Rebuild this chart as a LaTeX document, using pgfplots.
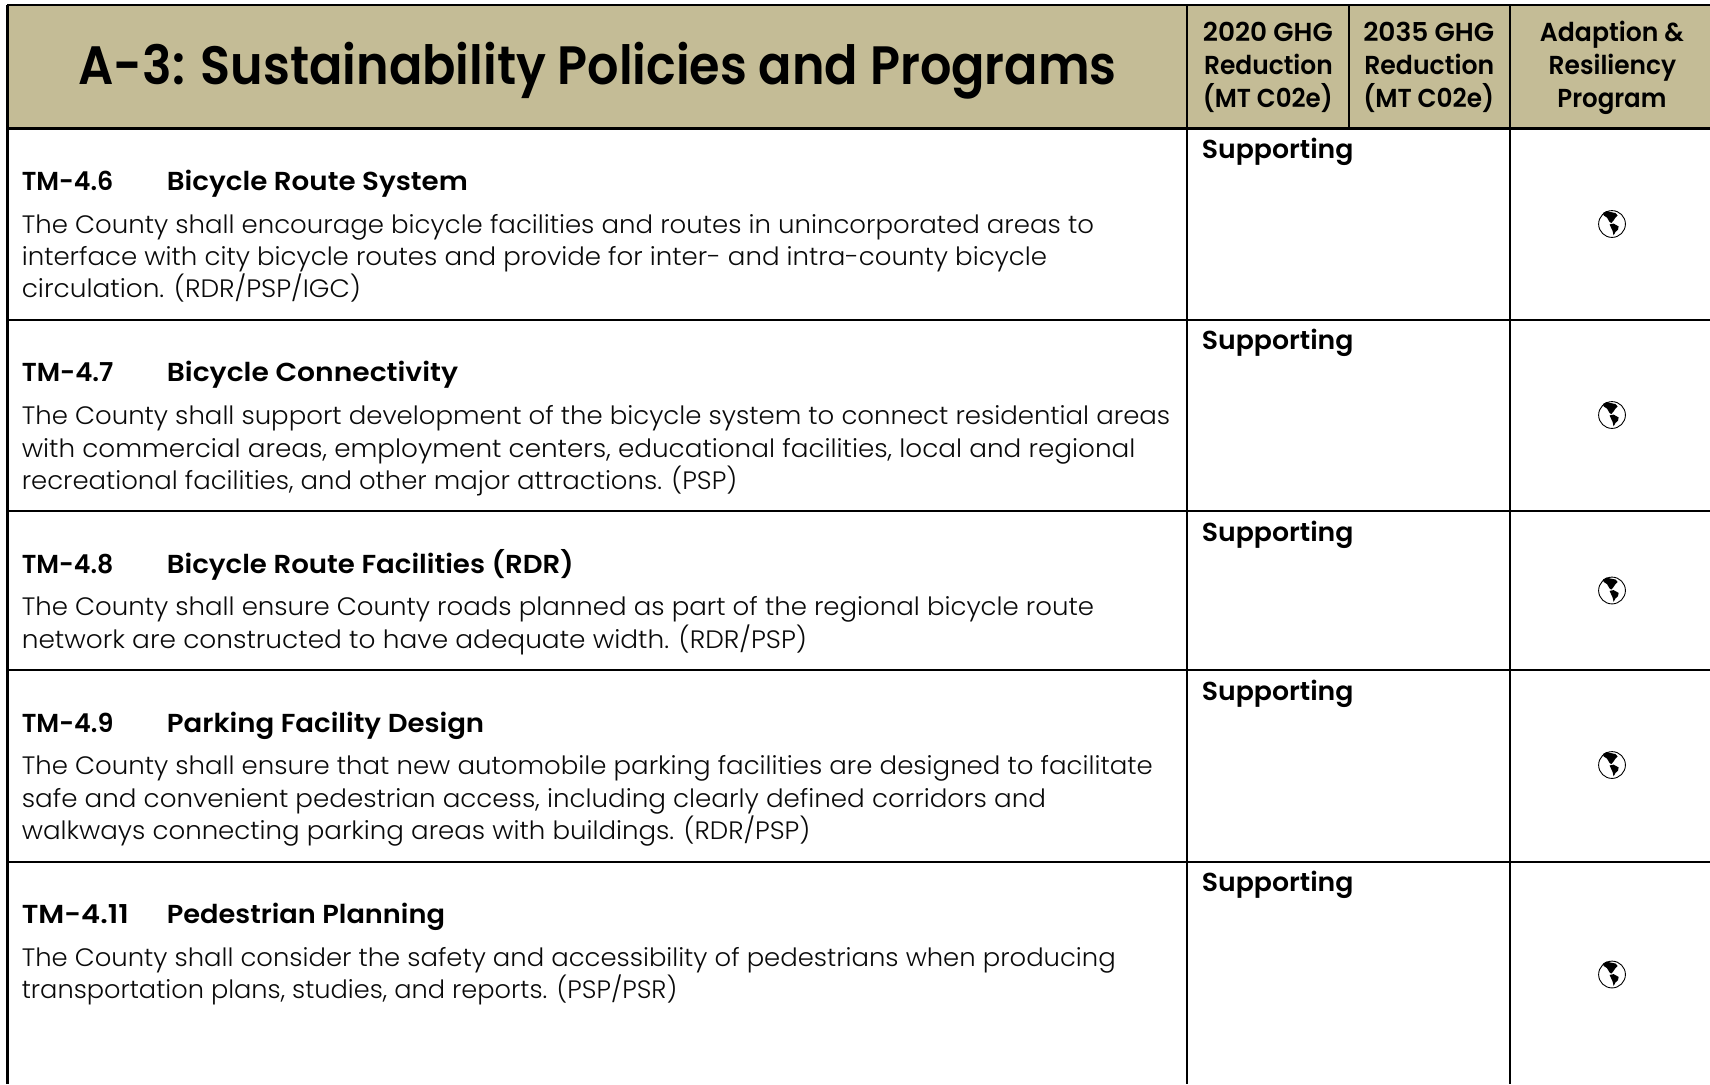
\documentclass[border=0pt]{standalone}
\usepackage{fontspec}
\usepackage{graphicx}
\usepackage{pgfplots}
\pgfplotsset{compat=1.18}
\setmainfont{Poppins}
\newfontfamily\bodyf{Poppins Light}
\newfontfamily\headf{Poppins}[UprightFont=*,BoldFont=* SemiBold]
\definecolor{hdr}{RGB}{196,188,150}
\definecolor{bodytxt}{RGB}{10,10,10}
% #1 x start, #2 x end (shrunk px), #3 baseline (full px), #4 font, #5 text
\newcommand\tl[5]{\node[anchor=base west,inner sep=0pt,outer sep=0pt] at (axis cs:{#1*1.0906},{#3}) {\pgfmathsetlengthmacro\mywid{(#2-#1)*0.5453}\resizebox{\mywid}{\height}{#4#5}};}
\newcommand\hd{\fontsize{13pt}{15pt}\selectfont\headf\bfseries}
\newcommand\bd{\fontsize{12.6pt}{15pt}\selectfont\bodyf\color{bodytxt}}
% the globe of the Adaption & Resiliency column, as a plot mark
\pgfdeclareplotmark{globe}{%
 \pgfsetlinewidth{0.45pt}\pgfsetstrokecolor{black}
 \pgfpathcircle{\pgfpoint{0pt}{0pt}}{6.7pt}\pgfusepathqstroke
 \pgfsetfillcolor{black}
 \pgfpathmoveto{\pgfpoint{-4.5pt}{5.5pt}}
 \pgfpathlineto{\pgfpoint{-2.8pt}{6.5pt}}
 \pgfpathlineto{\pgfpoint{-0.8pt}{6pt}}
 \pgfpathlineto{\pgfpoint{1.7pt}{5.5pt}}
 \pgfpathlineto{\pgfpoint{2.8pt}{4.3pt}}
 \pgfpathlineto{\pgfpoint{1.7pt}{3.2pt}}
 \pgfpathlineto{\pgfpoint{0.8pt}{1.8pt}}
 \pgfpathlineto{\pgfpoint{-0.3pt}{0.5pt}}
 \pgfpathlineto{\pgfpoint{-1.2pt}{1pt}}
 \pgfpathlineto{\pgfpoint{-2.5pt}{3.2pt}}
 \pgfpathlineto{\pgfpoint{-4.2pt}{4.3pt}}
 \pgfpathclose
 \pgfpathmoveto{\pgfpoint{-1.2pt}{-0.2pt}}
 \pgfpathlineto{\pgfpoint{0.8pt}{0.2pt}}
 \pgfpathlineto{\pgfpoint{3.3pt}{-1.2pt}}
 \pgfpathlineto{\pgfpoint{3pt}{-2.8pt}}
 \pgfpathlineto{\pgfpoint{1.7pt}{-4pt}}
 \pgfpathlineto{\pgfpoint{0.8pt}{-5.7pt}}
 \pgfpathlineto{\pgfpoint{0.3pt}{-3.5pt}}
 \pgfpathlineto{\pgfpoint{-0.5pt}{-1.8pt}}
 \pgfpathclose
 \pgfusepathqfill
}
\begin{document}
\begin{tikzpicture}
\begin{axis}[hide axis,scale only axis,width=855pt,height=542pt,
 xmin=0,xmax=1710,ymin=0,ymax=1084,y dir=reverse,clip=true]
\addplot[fill=white,draw=none] coordinates {(0,0) (1710,0) (1710,1084) (0,1084) (0,0)};
\addplot[fill=hdr,draw=none] coordinates {(7,5) (1710,5) (1710,128) (7,128) (7,5)};
\addplot[black,line width=1.1pt] coordinates {(7,5) (1710,5)};
\addplot[black,line width=1.1pt] coordinates {(7,128.5) (1710,128.5)};
\addplot[black,line width=1.1pt] coordinates {(7,320) (1710,320)};
\addplot[black,line width=1.1pt] coordinates {(7,511) (1710,511)};
\addplot[black,line width=1.1pt] coordinates {(7,670) (1710,670)};
\addplot[black,line width=1.1pt] coordinates {(7,862) (1710,862)};
\addplot[black,line width=1.1pt] coordinates {(7.5,4.5) (7.5,1084)};
\addplot[black,line width=1.1pt] coordinates {(1187,5) (1187,1084)};
\addplot[black,line width=0.9pt] coordinates {(1349,5) (1349,128)};
\addplot[black,line width=1.1pt] coordinates {(1510,5) (1510,1084)};
\addplot[only marks,mark=globe,black] coordinates {(1612,224) (1612,415) (1612,590.5) (1612,765) (1612,974.5)};
% title
\tl{72}{1024}{84}{\fontsize{27pt}{30pt}\selectfont\headf\bfseries}{A-3: Sustainability Policies and Programs}
% header columns
\tl{1103}{1222}{41}{\hd}{2020 GHG}
\tl{1104}{1222}{74}{\hd}{Reduction}
\tl{1103}{1222}{107}{\hd}{(MT C02e)}
\tl{1250}{1370}{41}{\hd}{2035 GHG}
\tl{1251}{1370}{74}{\hd}{Reduction}
\tl{1250}{1370}{107}{\hd}{(MT C02e)}
\tl{1412}{1544}{41}{\hd}{Adaption \&}
\tl{1420}{1537}{74}{\hd}{Resiliency}
\tl{1428}{1528}{107}{\hd}{Program}
% row 1
\tl{1102}{1241}{158}{\hd}{Supporting}
\tl{20}{104}{190}{\hd}{TM-4.6}
\tl{153}{429}{190}{\hd}{Bicycle Route System}
\tl{20}{1003}{233}{\bd}{The County shall encourage bicycle facilities and routes in unincorporated areas to}
\tl{20}{960}{265}{\bd}{interface with city bicycle routes and provide for inter- and intra-county bicycle}
\tl{20}{331}{297.5}{\bd}{circulation. (RDR/PSP/IGC)}
% row 2
\tl{1102}{1241}{349.5}{\hd}{Supporting}
\tl{20}{104}{381.5}{\hd}{TM-4.7}
\tl{153}{420}{381.5}{\hd}{Bicycle Connectivity}
\tl{20}{1073}{424.5}{\bd}{The County shall support development of the bicycle system to connect residential areas}
\tl{20}{1041}{457}{\bd}{with commercial areas, employment centers, educational facilities, local and regional}
\tl{20}{676}{489}{\bd}{recreational facilities, and other major attractions. (PSP)}
% row 3
\tl{1102}{1241}{541}{\hd}{Supporting}
\tl{20}{104}{573}{\hd}{TM-4.8}
\tl{153}{526}{573}{\hd}{Bicycle Route Facilities (RDR)}
\tl{20}{1003}{615.5}{\bd}{The County shall ensure County roads planned as part of the regional bicycle route}
\tl{20}{740}{648}{\bd}{network are constructed to have adequate width. (RDR/PSP)}
% row 4
\tl{1102}{1241}{700}{\hd}{Supporting}
\tl{20}{104}{732}{\hd}{TM-4.9}
\tl{153}{444}{732}{\hd}{Parking Facility Design}
\tl{20}{1057}{774.5}{\bd}{The County shall ensure that new automobile parking facilities are designed to facilitate}
\tl{20}{959}{807}{\bd}{safe and convenient pedestrian access, including clearly defined corridors and}
\tl{20}{743}{839}{\bd}{walkways connecting parking areas with buildings. (RDR/PSP)}
% row 5
\tl{1102}{1241}{891.5}{\hd}{Supporting}
\tl{20}{118}{923.5}{\hd}{TM-4.11}
\tl{153}{408}{923.5}{\hd}{Pedestrian Planning}
\tl{20}{1023}{966}{\bd}{The County shall consider the safety and accessibility of pedestrians when producing}
\tl{20}{621}{998}{\bd}{transportation plans, studies, and reports. (PSP/PSR)}
\end{axis}
\end{tikzpicture}
\end{document}
